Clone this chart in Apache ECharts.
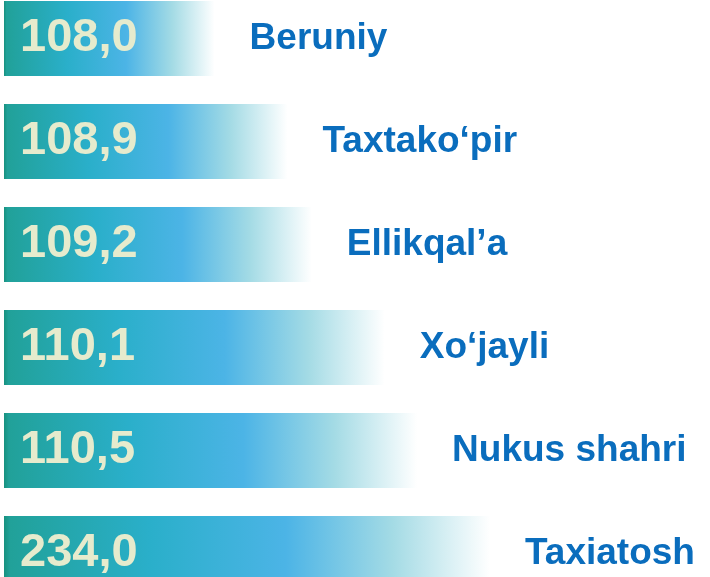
<!DOCTYPE html>
<html>
<head>
<meta charset="utf-8">
<script src="https://cdn.jsdelivr.net/npm/echarts@6/dist/echarts.min.js"></script>
<style>
  html, body { margin: 0; padding: 0; background: #fff; overflow: hidden; }
  /* ustunlar rasm chetidan biroz chiqib turadi */
  #chart { width: 710px; height: 618px; margin-top: -13px; }
</style>
</head>
<body>
<div id="chart"></div>
<script>
// tumanlar
const districts = ['Beruniy', 'Taxtako‘pir', 'Ellikqal’a', 'Xo‘jayli', 'Nukus shahri', 'Taxiatosh']
const values = [108.0, 108.9, 109.2, 110.1, 110.5, 234.0]

const chart = echarts.init(document.getElementById('chart'))

const barGradient = new echarts.graphic.LinearGradient(0, 0, 1, 0, [
  { offset: 0, color: '#17917f' },
  { offset: 0.012, color: '#21a199' },
  { offset: 0.3, color: '#2aafca' },
  { offset: 0.58, color: '#4cb4e6' },
  { offset: 0.8, color: '#a4dbe5' },
  { offset: 1, color: '#ffffff' },
])

const option = {
  animation: false,
  grid: {
    left: 4,
    right: 220,
    top: 0,
    bottom: 0,
  },
  xAxis: {
    type: 'value',
    min: 105.4,
    max: 111.4,
    show: false,
  },
  yAxis: {
    type: 'category',
    inverse: true,
    data: districts,
    show: false,
  },
  series: [
    {
      // ustunlar va qiymatlar
      type: 'bar',
      data: values,
      barWidth: 75,
      clip: true,
      itemStyle: { color: barGradient },
      label: {
        show: true,
        position: 'insideLeft',
        distance: 16,
        formatter: (p) => p.value.toFixed(1).replace('.', ','),
        color: '#e6ebcd',
        fontFamily: 'Liberation Sans, Arial, sans-serif',
        fontWeight: 'bold',
        fontSize: 47,
      },
    },
    {
      // tuman nomlari
      type: 'bar',
      data: values,
      barWidth: 75,
      barGap: '-100%',
      clip: true,
      silent: true,
      itemStyle: { color: 'rgba(0,0,0,0)' },
      label: {
        show: true,
        position: 'right',
        distance: 35,
        formatter: '{b}',
        color: '#0a6dbd',
        fontFamily: 'Liberation Sans, Arial, sans-serif',
        fontWeight: 'bold',
        fontSize: 37,
      },
    },
  ],
}
chart.setOption(option)
</script>
</body>
</html>
